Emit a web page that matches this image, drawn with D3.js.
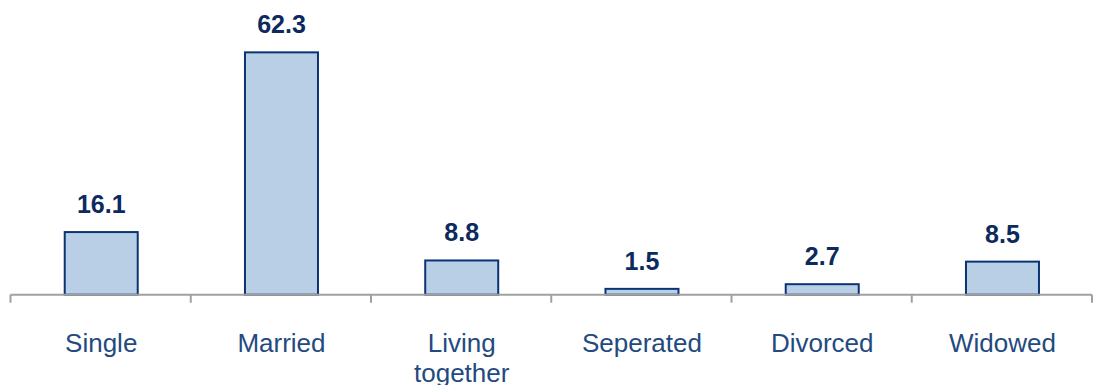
<!DOCTYPE html>
<html>
<head>
<meta charset="utf-8">
<script src="https://cdn.jsdelivr.net/npm/d3@7"></script>
<style>
  html, body { margin: 0; padding: 0; background: #ffffff; }
  svg { display: block; }
</style>
</head>
<body>
<svg id="chart" width="1093" height="385"></svg>
<script>
// Marital status distribution (%)
const categories = ["Single", "Married", "Living together", "Seperated", "Divorced", "Widowed"];
const values = [16.1, 62.3, 8.8, 1.5, 2.7, 8.5];

const W = 1093, H = 385;
const baseY = 294.7;

const svg = d3.select("#chart");

const x = d3.scaleBand()
  .domain(categories)
  .range([10.5, 1092])
  .padding(0);

const y = d3.scaleLinear()
  .domain([0, 70])
  .range([baseY, baseY - 70 * 3.89]);

const barW = x.bandwidth() * 0.405;

// Bars
svg.append("g")
  .selectAll("rect")
  .data(values)
  .join("rect")
  .attr("x", (d, i) => x(categories[i]) + (x.bandwidth() - barW) / 2 + 0.6)
  .attr("y", d => y(d))
  .attr("width", barW)
  .attr("height", d => y(0) - y(d))
  .attr("fill", "#b8cfe6")
  .attr("stroke", "#0b3475")
  .attr("stroke-width", 2);

// Value labels
svg.append("g")
  .selectAll("text")
  .data(values)
  .join("text")
  .attr("x", (d, i) => x(categories[i]) + x.bandwidth() / 2 + 0.6)
  .attr("y", d => y(d) - 19)
  .attr("text-anchor", "middle")
  .attr("font-family", "'Liberation Sans', Arial, sans-serif")
  .attr("font-weight", "bold")
  .attr("font-size", 25)
  .attr("fill", "#0c2a5e")
  .text(d => d.toFixed(1));

// Category axis: baseline and tick marks at band boundaries
const axis = svg.append("g");
const tickXs = categories.map(c => x(c)).concat([x.range()[1]]);
axis.append("line")
  .attr("x1", x.range()[0]).attr("x2", x.range()[1])
  .attr("y1", baseY).attr("y2", baseY)
  .attr("stroke", "#a0a0a0").attr("stroke-width", 2);
axis.selectAll("line.tick")
  .data(tickXs)
  .join("line")
  .attr("class", "tick")
  .attr("x1", d => d).attr("x2", d => d)
  .attr("y1", baseY).attr("y2", baseY + 8)
  .attr("stroke", "#a0a0a0").attr("stroke-width", 2);

// Category labels, wrapped to fit narrower than the band
const labels = axis.selectAll("text.cat")
  .data(categories)
  .join("text")
  .attr("class", "cat")
  .attr("text-anchor", "middle")
  .attr("font-family", "'Liberation Sans', Arial, sans-serif")
  .attr("font-size", 26)
  .attr("fill", "#234a80");

labels.each(function(d) {
  const t = d3.select(this);
  const cx = x(d) + x.bandwidth() / 2 + 0.6;
  const words = d.split(" ");
  const lines = [];
  let line = [];
  const probe = t.append("tspan");
  words.forEach(w => {
    const test = line.concat([w]).join(" ");
    probe.text(test);
    if (line.length && probe.node().getComputedTextLength() > 150) {
      lines.push(line.join(" "));
      line = [w];
    } else {
      line.push(w);
    }
  });
  lines.push(line.join(" "));
  probe.remove();
  lines.forEach((l, k) => {
    t.append("tspan")
      .attr("x", cx)
      .attr("y", 352 + k * 30)
      .text(l);
  });
});
</script>
</body>
</html>
